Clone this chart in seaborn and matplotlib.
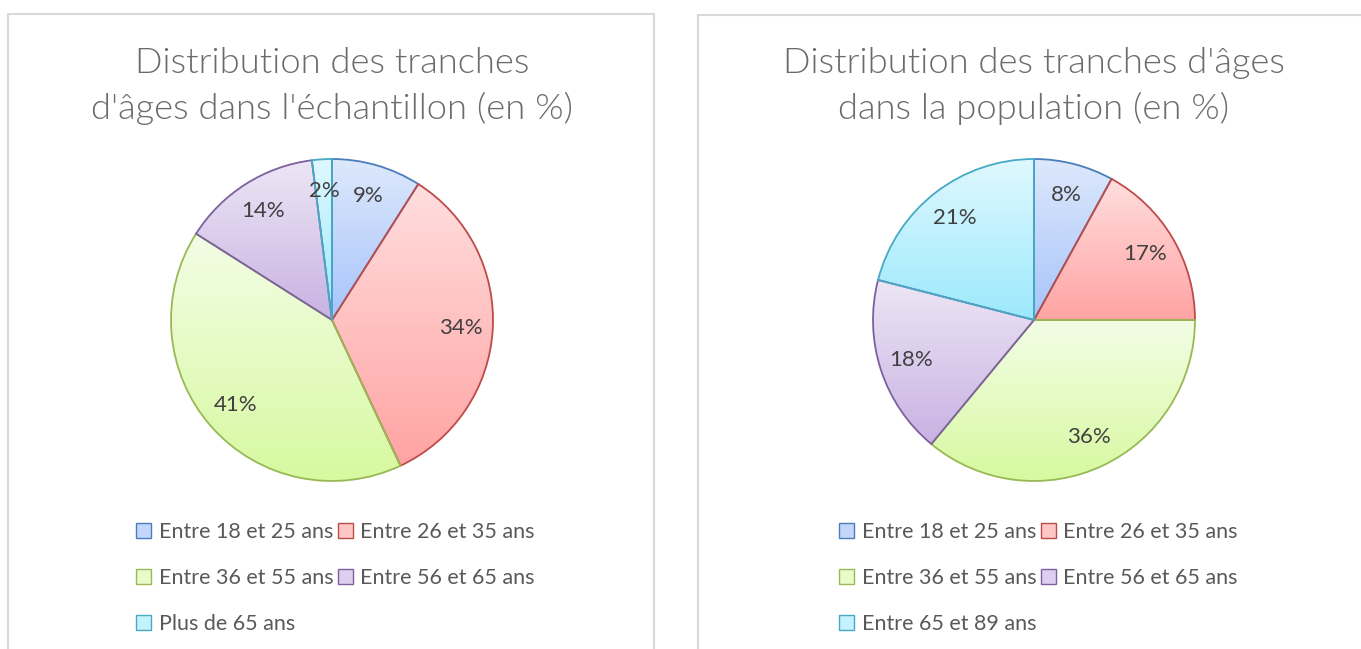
import matplotlib
matplotlib.use("Agg")
import matplotlib.pyplot as plt
import matplotlib.colors as mcolors
from matplotlib.patches import Patch, Rectangle
import numpy as np
import seaborn as sns

# data
left_title = "Distribution des tranches\nd'âges dans l'échantillon (en %)"
left_labels = ["Entre 18 et 25 ans", "Entre 26 et 35 ans", "Entre 36 et 55 ans",
               "Entre 56 et 65 ans", "Plus de 65 ans"]
left_values = [9, 34, 41, 14, 2]

right_title = "Distribution des tranches d'âges\ndans la population (en %)"
right_labels = ["Entre 18 et 25 ans", "Entre 26 et 35 ans", "Entre 36 et 55 ans",
                "Entre 56 et 65 ans", "Entre 65 et 89 ans"]
right_values = [8, 17, 36, 18, 21]

# excel-ish gradient colours (top, bottom, edge)
tops = ["#dde8fb", "#ffdede", "#f3fde6", "#ede6f5", "#dff8ff"]
bottoms = ["#a7c4fb", "#ffa3a3", "#d7f9a0", "#c8b2e3", "#9ce9fc"]
edges = ["#4a7ebb", "#be4b48", "#98b954", "#7d60a0", "#46aac5"]
legend_fill = ["#c4d7fb", "#ffc6c6", "#e8fbc8", "#ddd0ee", "#c4f2fd"]

sns.set_theme(style="white")
plt.rcParams['font.family'] = ['Lato', 'DejaVu Sans']

W, H = 1361, 649
fig = plt.figure(figsize=(W / 100, H / 100), dpi=100)

# panel frames
for x0, x1, y0 in [(8, 654, 14), (698, 1370, 15)]:
    fig.patches.append(Rectangle((x0 / W, -0.05), (x1 - x0) / W, 1.05 - y0 / H,
                                 transform=fig.transFigure, fill=False,
                                 edgecolor="#d9d9d9", linewidth=1.5))

R = 161  # pie radius in px
half = 172


def draw_pie(cx, cy, values, labels, title, title_y, leg_x):
    ax = fig.add_axes([(cx - half) / W, 1 - (cy + half) / H, 2 * half / W, 2 * half / H])
    wedges, texts, autotexts = ax.pie(values, startangle=90, counterclock=False,
                                      autopct='%1.0f%%', pctdistance=0.8,
                                      textprops=dict(color="#404040", fontsize=16))
    for i, w in enumerate(wedges):
        bb = w.get_path().get_extents()
        cmap = mcolors.LinearSegmentedColormap.from_list("g", [bottoms[i], tops[i]])
        grad = np.linspace(0, 1, 256).reshape(-1, 1)
        im = ax.imshow(grad, cmap=cmap, origin="lower", aspect="auto",
                       extent=(bb.x0, bb.x1, bb.y0, bb.y1), zorder=1)
        im.set_clip_path(w)
        w.set_facecolor("none")
        w.set_edgecolor(edges[i])
        w.set_linewidth(1.3)
        w.set_zorder(2)
    for t in autotexts:
        t.set_zorder(3)
    lim = half / R
    ax.set_xlim(-lim, lim)
    ax.set_ylim(-lim, lim)
    ax.set_aspect("equal")
    ax.axis("off")

    fig.text(cx / W, 1 - title_y / H, title, ha="center", va="center",
             fontsize=26.2, color="#6b6b6b", linespacing=1.45, fontweight=300)

    handles = [Patch(facecolor=legend_fill[i], edgecolor=edges[i], label=labels[i])
               for i in range(len(labels))]
    order = [0, 2, 4, 1, 3]
    fig.legend([handles[i] for i in order], [labels[i] for i in order],
               ncol=2, loc="upper left", bbox_to_anchor=(leg_x / W, 1 - 522 / H),
               frameon=False, fontsize=15.5, labelcolor="#595959",
               handlelength=0.7, handleheight=0.7, handletextpad=0.35,
               columnspacing=0.2, labelspacing=1.2, borderpad=0, borderaxespad=0)


draw_pie(332, 320, left_values, left_labels, left_title, 86, 136)
draw_pie(1034, 320, right_values, right_labels, right_title, 86, 839)

fig.savefig("out.png", dpi=100)
